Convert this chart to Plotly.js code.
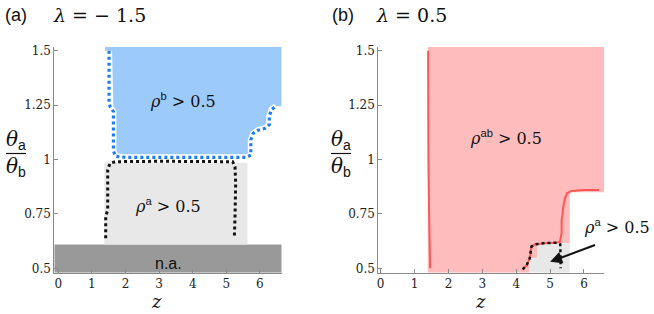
<!DOCTYPE html>
<html><head><meta charset="utf-8">
<script src="https://cdn.plot.ly/plotly-3.0.1.min.js"></script>
<style>body{margin:0;background:#fff}#chart{width:654px;height:314px}</style>
</head><body><div id="chart"></div>
<script>
// ---------- Panel (a): lambda = -1.5 ----------
const naZ = [-0.12, 6.65, 6.65, -0.12];
const naY = [0.48, 0.48, 0.61, 0.61];
const rhoAregionZ = [1.37, 5.63, 5.63, 1.37];
const rhoAregionY = [0.61, 0.61, 0.985, 0.985];
// boundary of rho^b > 0.5 (blue dotted contour)
const rhoBEdgeZ = [1.51, 1.51, 1.55, 1.64, 1.64, 1.70, 2.0, 3.0, 4.0, 5.0, 5.6, 5.73, 5.73, 5.80, 5.95, 6.15, 6.28, 6.28, 6.35, 6.48];
const rhoBEdgeY = [1.50, 1.26, 1.24, 1.22, 1.04, 1.015, 1.01, 1.01, 1.01, 1.01, 1.01, 1.02, 1.09, 1.12, 1.135, 1.143, 1.16, 1.20, 1.23, 1.245];
const rhoBOuterZ = [6.65, 6.65, 1.39, 1.39];
const rhoBOuterY = [1.245, 1.518, 1.518, 1.50];
// boundary of rho^a > 0.5 (black dotted contour)
const rhoAEdgeZ = [1.41, 1.41, 1.47, 1.47, 1.54, 1.69, 3.0, 4.5, 5.19, 5.26, 5.28, 5.26, 5.24];
const rhoAEdgeY = [0.638, 0.737, 0.768, 0.952, 0.983, 0.99, 0.992, 0.992, 0.99, 0.967, 0.89, 0.737, 0.642];

// ---------- Panel (b): lambda = 0.5 ----------
const rhoABregionZ = [1.39, 4.38, 4.38, 4.62, 4.62, 5.58, 5.58, 6.6, 6.6, 1.39];
const rhoABregionY = [0.48, 0.48, 0.546, 0.546, 0.615, 0.615, 0.85, 0.85, 1.518, 1.518];
const rhoAregionBZ = [4.38, 5.58, 5.58, 4.62, 4.62, 4.38];
const rhoAregionBY = [0.48, 0.48, 0.615, 0.615, 0.546, 0.546];
const redLeftZ = [1.40, 1.40, 1.41, 1.43, 1.46];
const redLeftY = [1.50, 1.25, 1.00, 0.75, 0.50];
const redRightZ = [4.19, 4.31, 4.40, 4.45, 4.55, 4.80, 5.19, 5.29, 5.34, 5.34, 5.37, 5.39, 5.44, 5.50, 5.63, 5.98, 6.45];
const redRightY = [0.495, 0.515, 0.546, 0.60, 0.61, 0.615, 0.618, 0.622, 0.661, 0.722, 0.753, 0.783, 0.822, 0.845, 0.855, 0.86, 0.86];
const blackBZ = [4.19, 4.31, 4.40, 4.45, 4.55, 4.80, 5.19, 5.30, 5.31, 5.31];
const blackBY = [0.495, 0.515, 0.546, 0.60, 0.61, 0.615, 0.618, 0.61, 0.55, 0.50];

const xTicks = [0, 1, 2, 3, 4, 5, 6];
const yTicks = [0.5, 0.75, 1, 1.25, 1.5];
const yTickText = ['0.5', '0.75', '1', '1.25', '1.5'];

const W = 654, H = 314;
const px = v => v / W, py = v => 1 - v / H;

const BLUE_FILL = '#9ccbfb', BLUE_DOT = '#1d7cf2', GRAY_NA = '#999999', GRAY_LT = '#e8e8e8',
      PINK = '#ffbcbc', RED = '#ff5757';

function poly(x, y, color, xa, ya) {
  return {x, y, xaxis: xa, yaxis: ya, type: 'scatter', mode: 'lines', fill: 'toself',
    fillcolor: color, line: {width: 0, color: color}, hoverinfo: 'skip', showlegend: false};
}
function line(x, y, color, width, dash, xa, ya) {
  return {x, y, xaxis: xa, yaxis: ya, type: 'scatter', mode: 'lines',
    line: {color, width, dash, shape: 'linear'}, hoverinfo: 'skip', showlegend: false};
}

const blueFillZ = [...rhoBEdgeZ, ...rhoBOuterZ];
const blueFillY = [...rhoBEdgeY, ...rhoBOuterY];

const traces = [
  poly(naZ, naY, GRAY_NA, 'x', 'y'),
  poly(rhoAregionZ, rhoAregionY, GRAY_LT, 'x', 'y'),
  poly(blueFillZ, blueFillY, BLUE_FILL, 'x', 'y'),
  line(rhoBEdgeZ, rhoBEdgeY, '#ffffff', 6, 'solid', 'x', 'y'),
  line(rhoBEdgeZ, rhoBEdgeY, BLUE_DOT, 3.2, '3px,3px', 'x', 'y'),
  line(rhoAEdgeZ, rhoAEdgeY, '#111111', 3, '3px,3px', 'x', 'y'),

  poly(rhoABregionZ, rhoABregionY, PINK, 'x2', 'y2'),
  poly(rhoAregionBZ, rhoAregionBY, GRAY_LT, 'x2', 'y2'),
  line(redLeftZ, redLeftY, RED, 2, 'solid', 'x2', 'y2'),
  line(redRightZ, redRightY, RED, 2, 'solid', 'x2', 'y2'),
  line(blackBZ, blackBY, '#111111', 2.5, '3px,3px', 'x2', 'y2')
];

const serif = 'DejaVu Serif';
const sans = 'Liberation Sans';

const axisCommon = {
  showline: true, linecolor: '#8a8a8a', linewidth: 1, mirror: false,
  ticks: 'inside', ticklen: 4, tickcolor: '#8a8a8a', tickwidth: 1,
  showgrid: false, zeroline: false, fixedrange: true,
  tickfont: {family: serif, size: 12, color: '#222'}
};

function ann(x, y, text, size, family, extra) {
  return Object.assign({xref: 'paper', yref: 'paper', x: px(x), y: py(y), text, showarrow: false,
    font: {family: family || serif, size: size || 16, color: '#111'}, xanchor: 'center', yanchor: 'middle'}, extra || {});
}

const rhoLabel = (sup) => '<i>ρ</i><sup><span style="font-family:Liberation Sans">' + sup + '</span></sup> &gt; 0.5';
const thetaA = '<i>θ</i><sub><span style="font-family:Liberation Sans">a</span></sub>';
const thetaB = '<i>θ</i><sub><span style="font-family:Liberation Sans">b</span></sub>';

const annotations = [
  ann(3, 15, '(a)', 18, sans, {xanchor: 'left'}),
  ann(51, 15, '<i>λ</i> = − 1.5', 19, serif, {xanchor: 'left'}),
  ann(330, 15, '(b)', 18, sans, {xanchor: 'left'}),
  ann(374, 15, '<i>λ</i> = 0.5', 19, serif, {xanchor: 'left'}),

  ann(16, 140, thetaA, 20),
  ann(16, 167, thetaB, 20),
  ann(341, 140, thetaA, 20),
  ann(341, 167, thetaB, 20),

  ann(156, 313, '<i>z</i>', 18, serif, {yanchor: 'bottom', borderpad: 0}),
  ann(480, 313, '<i>z</i>', 18, serif, {yanchor: 'bottom', borderpad: 0}),

  {xref: 'x', yref: 'y', x: 3.72, y: 1.273, text: rhoLabel('b'), showarrow: false, font: {family: serif, size: 16, color: '#111'}},
  {xref: 'x', yref: 'y', x: 3.27, y: 0.79, text: rhoLabel('a'), showarrow: false, font: {family: serif, size: 16, color: '#111'}},
  {xref: 'x', yref: 'y', x: 3.27, y: 0.523, text: 'n.a.', showarrow: false, font: {family: sans, size: 16, color: '#111'}},

  {xref: 'x2', yref: 'y2', x: 3.7, y: 1.10, text: rhoLabel('ab'), showarrow: false, font: {family: serif, size: 16, color: '#111'}},
  ann(617, 227, rhoLabel('a'), 16, serif),
  {xref: 'x2', yref: 'y2', x: 5.0, y: 0.53, axref: 'x2', ayref: 'y2', ax: 6.37, ay: 0.61, text: '',
   showarrow: true, arrowhead: 2, arrowsize: 1.2, arrowwidth: 2, arrowcolor: '#111', arrowside: 'end'}
];

const shapes = [
  {type: 'line', xref: 'paper', yref: 'paper', x0: px(6), x1: px(26), y0: py(153.5), y1: py(153.5), line: {color: '#111', width: 1.2}},
  {type: 'line', xref: 'paper', yref: 'paper', x0: px(331), x1: px(351), y0: py(153.5), y1: py(153.5), line: {color: '#111', width: 1.2}}
];

const layout = {
  width: W, height: H,
  margin: {l: 0, r: 0, t: 0, b: 0},
  paper_bgcolor: '#fff', plot_bgcolor: 'rgba(0,0,0,0)',
  showlegend: false,
  xaxis: Object.assign({}, axisCommon, {domain: [px(54.3), px(281.7)], range: [-0.12, 6.65], tickvals: xTicks, anchor: 'y'}),
  yaxis: Object.assign({}, axisCommon, {domain: [py(272.7), py(46.8)], range: [0.48, 1.518], tickvals: yTicks, ticktext: yTickText, anchor: 'x'}),
  xaxis2: Object.assign({}, axisCommon, {domain: [px(378.3), px(604.3)], range: [-0.07, 6.6], tickvals: xTicks, anchor: 'y2'}),
  yaxis2: Object.assign({}, axisCommon, {domain: [py(272.7), py(46.8)], range: [0.48, 1.518], tickvals: yTicks, ticktext: yTickText, anchor: 'x2'}),
  annotations, shapes
};

Plotly.newPlot('chart', traces, layout, {staticPlot: true, displayModeBar: false});
</script>
</body></html>
